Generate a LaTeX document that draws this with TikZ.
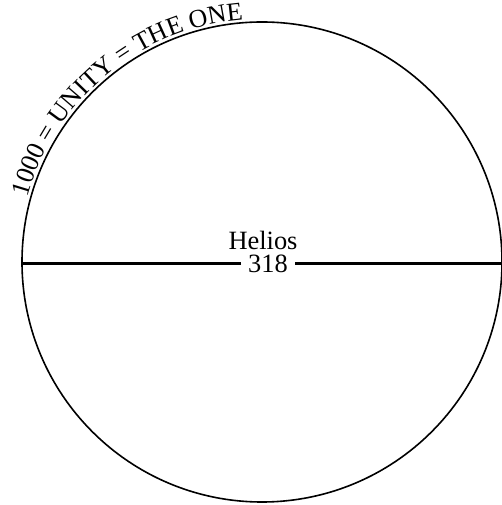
\documentclass[tikz,border=0pt]{standalone}
\usepackage{fontspec}
\setmainfont{Liberation Serif}
\usetikzlibrary{positioning,decorations.text}

\tikzset{
  bigtext/.style={font=\fontsize{26.5}{30}\selectfont, inner sep=0pt},
}

\begin{document}
\begin{tikzpicture}[x=1bp, y=1bp]
  \useasboundingbox (0,0) rectangle (502,505);

  %--- The sphere ---
  \node[draw, circle, line width=1.6bp, minimum size=480bp, inner sep=0pt] (sun) at (262,243) {};

  % Number and name
  \node[bigtext, inner xsep=7bp] (num) at (268,241) {318};
  \node[bigtext, above=4.5bp of num, xshift=-5bp] (name) {Helios};

  \draw[line width=3bp] (num.west) -- (num -| sun.west);
  \draw[line width=3bp] (num.east) -- (num -| sun.east);

  %--- Text round the rim ---
  \path[decorate, decoration={text along path, text align=center,
        text={|\fontsize{26}{30}\selectfont|1000 = UNITY = THE ONE}}]
    (sun.center) ++(178:243) arc[start angle=178, end angle=81, radius=243];
\end{tikzpicture}
\end{document}
